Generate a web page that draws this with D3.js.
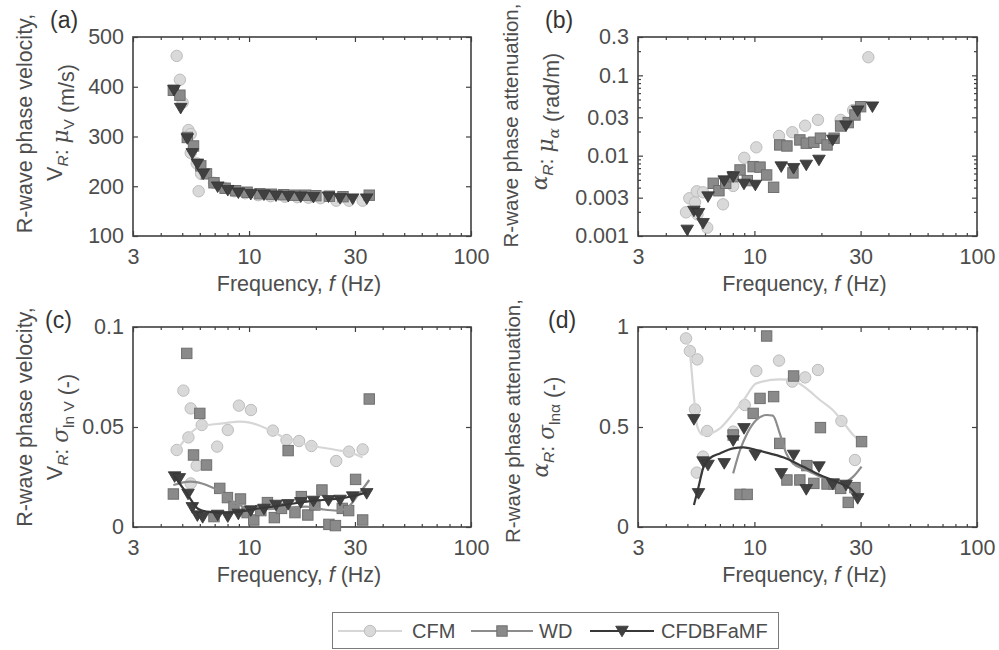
<!DOCTYPE html>
<html>
<head>
<meta charset="utf-8">
<script src="https://cdn.jsdelivr.net/npm/d3@7"></script>
<style>
  html, body { margin: 0; padding: 0; background: #fff; }
  svg { display: block; font-family: "Liberation Sans", Arial, sans-serif; }
</style>
</head>
<body>
<svg id="chart" width="999" height="650"></svg>
<script>
// ---------------- DATA ----------------
const freqTicks = [3, 10, 30, 100];
const freqMinor = [4, 5, 6, 7, 8, 9, 20, 40, 50, 60, 70, 80, 90];
const velTicks = [100, 200, 300, 400, 500];
const attTicks = [0.001, 0.003, 0.01, 0.03, 0.1, 0.3];
const attMinor = [0.002, 0.004, 0.005, 0.006, 0.007, 0.008, 0.009, 0.02, 0.04, 0.05, 0.06, 0.07, 0.08, 0.09, 0.2];
const sdVTicks = [0, 0.05, 0.1];
const sdATicks = [0, 0.5, 1];
const methods = ["CFM", "WD", "CFDBFaMF"];
const panelTags = ["(a)", "(b)", "(c)", "(d)"];

// (a) mean phase velocity (m/s) : [frequency Hz, value]
const aCFM = [[4.72,462],[4.88,414],[5.02,368],[5.33,313],[5.46,305],[5.46,267],[5.81,246],[6.08,225],[5.93,190],[6.95,207],
  [7.7,197],[8.6,190],[9.6,186],[11.0,182],[12.5,180],[14.5,179],[16.5,178],[18.5,177],[21.0,176],[24.7,171],[28.2,171],[32.5,171]];
const aWD = [[4.56,393],[4.88,383],[5.27,298],[5.62,281],[6.06,241],[6.43,225],[6.95,207],[7.8,196],[8.7,191],[9.8,188],
  [11.2,185],[12.6,184],[14.3,183],[16.0,182],[18.0,182],[20.0,181],[23.0,180],[26.5,179],[34.8,182]];
const aCFD = [[4.59,393],[4.92,357],[5.27,296],[5.55,266],[5.85,245],[6.22,225],[7.22,199],[8.02,192],[8.95,187],[10.18,184],
  [11.67,183],[13.23,181],[15.03,180],[17.1,179],[19.5,178],[22.8,179],[25.7,176],[29.3,175],[33.9,175]];

// (b) mean phase attenuation (rad/m)
const bCFM = [[4.93,0.00197],[5.10,0.00295],[5.41,0.00263],[5.51,0.0036],[5.55,0.00186],[5.88,0.0035],[6.14,0.00127],[7.23,0.00248],
  [8.03,0.0042],[9.0,0.0094],[10.2,0.0127],[12.9,0.0176],[14.8,0.0196],[16.9,0.0236],[19.3,0.0279],[24.4,0.0279],[27.8,0.037],[32.5,0.168]];
const bWD = [[6.53,0.00453],[6.93,0.00366],[7.43,0.00453],[8.03,0.00548],[8.62,0.00664],[9.29,0.00489],[9.87,0.0073],[10.6,0.0072],
  [11.35,0.00575],[12.2,0.00404],[13.0,0.0136],[14.0,0.0132],[14.9,0.0061],[16.0,0.0157],[17.1,0.0143],[18.5,0.0147],[19.8,0.0165],
  [21.2,0.0136],[22.8,0.0165],[24.4,0.0234],[26.4,0.0258],[28.3,0.0321],[30.0,0.0407]];
const bCFD = [[4.99,0.00119],[5.35,0.00205],[5.61,0.00192],[5.88,0.00144],[6.19,0.00309],[7.32,0.00489],[8.03,0.00548],[8.98,0.00444],
  [10.1,0.00431],[13.2,0.0073],[15.0,0.00697],[17.1,0.00766],[19.5,0.00884],[22.5,0.0157],[25.8,0.0236],[29.1,0.0363],[33.9,0.0407]];

// (c) standard deviation of ln V (-)
const cCFM = [[4.72,0.0385],[5.06,0.0682],[5.33,0.0448],[5.46,0.0593],[5.81,0.0307],[5.46,0.0218],[6.12,0.051],[7.18,0.0402],
  [8.02,0.0485],[9.0,0.0607],[10.2,0.0585],[12.8,0.0482],[14.75,0.0435],[16.8,0.043],[19.1,0.0405],[24.7,0.033],[28.2,0.0377],[32.5,0.0388]];
const cWD = [[5.24,0.0868],[6.0,0.0568],[5.62,0.036],[6.43,0.031],[4.56,0.0165],[7.38,0.0193],[7.99,0.0147],[8.55,0.0102],[9.15,0.014],
  [6.95,0.0052],[9.8,0.0072],[10.5,0.0035],[11.3,0.0082],[12.1,0.0122],[13.0,0.0047],[14.0,0.0093],[15.0,0.0382],[16.1,0.0072],
  [17.2,0.0152],[18.4,0.006],[19.8,0.011],[21.3,0.0185],[22.9,0.0013],[24.5,0.0007],[26.3,0.0093],[28.1,0.0082],[30.2,0.0238],
  [32.5,0.0035],[34.8,0.064]];
const cCFD = [[4.62,0.0252],[4.85,0.0243],[5.31,0.0165],[5.55,0.0098],[5.85,0.0057],[6.18,0.0048],[7.22,0.006],[8.02,0.0052],
  [8.95,0.0065],[10.18,0.0082],[11.67,0.009],[13.23,0.011],[15.0,0.0113],[17.1,0.0123],[19.5,0.013],[22.8,0.0133],[25.7,0.0135],
  [29.3,0.0152],[33.9,0.0168]];
const cCFMfit = [[4.75,0.0385],[5.43,0.0468],[6.12,0.0505],[7.63,0.0518],[9.09,0.0527],[10.1,0.0522],[12.8,0.0477],[14.75,0.044],
  [19.5,0.0405],[25.7,0.0382],[29.4,0.0368],[32.5,0.0347]];
const cWDfit = [[4.56,0.021],[5.43,0.0227],[6.43,0.021],[7.38,0.0177],[8.48,0.0127],[9.7,0.0097],[11.1,0.0088],[12.8,0.009],
  [15.3,0.0098],[18.1,0.0102],[21.5,0.0088],[24.9,0.0082],[27.5,0.0093],[30.6,0.0152],[34.8,0.0235]];
const cCFDfit = [[4.62,0.0252],[5.24,0.0168],[5.91,0.009],[6.43,0.0077],[7.63,0.0072],[9.09,0.0077],[10.4,0.0088],[12.8,0.0102],
  [15.3,0.0115],[18.1,0.0127],[21.5,0.0135],[25.7,0.0143],[29.4,0.0155],[33.9,0.0172]];

// (d) standard deviation of ln alpha (-)
const dCFM = [[4.93,0.943],[5.13,0.88],[5.54,0.838],[5.41,0.588],[6.14,0.48],[5.88,0.352],[5.51,0.272],[8.03,0.477],[9.05,0.61],
  [10.2,0.78],[12.9,0.832],[14.8,0.727],[16.9,0.748],[19.3,0.785],[24.6,0.53],[28.3,0.335]];
const dWD = [[11.35,0.955],[15.0,0.755],[10.6,0.643],[12.2,0.652],[9.87,0.568],[8.03,0.46],[8.62,0.163],[9.28,0.163],[13.0,0.418],
  [14.0,0.235],[16.0,0.235],[17.2,0.307],[18.5,0.218],[19.8,0.497],[21.2,0.215],[22.8,0.215],[24.4,0.193],[26.4,0.123],[28.3,0.197],[30.3,0.427]];
const dCFD = [[5.35,0.538],[5.61,0.168],[5.88,0.327],[6.19,0.31],[7.32,0.318],[8.03,0.432],[8.98,0.493],[10.1,0.36],[13.2,0.268],
  [15.0,0.36],[17.1,0.188],[19.5,0.302],[22.5,0.215],[25.8,0.21],[29.1,0.143]];
const dCFMfit = [[4.96,0.935],[5.13,0.868],[5.35,0.652],[5.54,0.502],[5.88,0.46],[7.0,0.493],[8.03,0.568],[9.05,0.643],[10.2,0.718],
  [13.0,0.738],[14.9,0.732],[17.1,0.693],[19.7,0.635],[22.5,0.585],[24.6,0.535],[27.8,0.46],[30.0,0.427]];
const dWDfit = [[8.03,0.268],[8.62,0.385],[9.28,0.468],[10.2,0.535],[11.35,0.56],[12.1,0.557],[13.0,0.468],[13.9,0.368],[14.9,0.318],
  [17.1,0.285],[19.7,0.252],[22.5,0.223],[25.0,0.222],[27.8,0.252],[30.3,0.302]];
const dCFDfit = [[5.35,0.11],[5.61,0.2],[5.88,0.293],[6.3,0.343],[7.0,0.368],[8.03,0.393],[8.93,0.398],[10.2,0.385],[11.7,0.368],
  [13.9,0.343],[16.5,0.302],[19.7,0.26],[23.3,0.227],[26.9,0.193],[29.1,0.152]];

// ---------------- STYLE / LAYOUT ----------------
const styles = {
  CFM: { fill: "#d9d9d9", stroke: "#bdbdbd", line: "#d6d6d6", shape: "circle" },
  WD: { fill: "#8a8a8a", stroke: "#6f6f6f", line: "#8c8c8c", shape: "square" },
  CFDBFaMF: { fill: "#404040", stroke: "#333333", line: "#383838", shape: "tri" }
};
const frameColor = "#404040";
const textColor = "#4d4d4d";
const sans = '"Liberation Sans", Arial, sans-serif';
const serif = '"DejaVu Serif", "Liberation Serif", serif';
const FS = 21.5;

const panels = [
  { tag: panelTags[0], left: 133, right: 471, top: 37, bottom: 236, yType: "lin", yDomain: [100, 500], yTicks: velTicks, yMinor: [],
    yFmt: d => String(d), series: [aCFM, aWD, aCFD], fits: [null, null, null], fs1: 21.5,
    ylab1: "R-wave phase velocity,", ylab2: "a", ylabX1: 24, ylabX2: 55, off1: -13, off2: -14, tagX: 50, tagY: 28 },
  { tag: panelTags[1], left: 638, right: 977, top: 37, bottom: 236, yType: "log", yDomain: [0.001, 0.3], yTicks: attTicks, yMinor: attMinor,
    yFmt: d => String(d), series: [bCFM, bWD, bCFD], fits: [null, null, null], fs1: 20.5,
    ylab1: "R-wave phase attenuation,", ylab2: "b", ylabX1: 510, ylabX2: 540, off1: -11, off2: -15, tagX: 545, tagY: 28 },
  { tag: panelTags[2], left: 133, right: 471, top: 327, bottom: 527, yType: "lin", yDomain: [0, 0.1], yTicks: sdVTicks, yMinor: [],
    yFmt: d => String(d), series: [cCFM, cWD, cCFD], fits: [cCFMfit, cWDfit, cCFDfit], fs1: 21.5,
    ylab1: "R-wave phase velocity,", ylab2: "c", ylabX1: 24, ylabX2: 55, off1: -10, off2: 0, tagX: 45, tagY: 328 },
  { tag: panelTags[3], left: 638, right: 977, top: 327, bottom: 527, yType: "lin", yDomain: [0, 1], yTicks: sdATicks, yMinor: [],
    yFmt: d => String(d), series: [dCFM, dWD, dCFD], fits: [dCFMfit, dWDfit, dCFDfit], fs1: 20.5,
    ylab1: "R-wave phase attenuation,", ylab2: "d", ylabX1: 512, ylabX2: 541, off1: -6, off2: 0, tagX: 548, tagY: 328 }
];

const svg = d3.select("#chart");

function drawMarker(g, shape, x, y, st) {
  if (shape === "circle") {
    g.append("circle").attr("cx", x).attr("cy", y).attr("r", 5.7)
      .attr("fill", st.fill).attr("stroke", st.stroke).attr("stroke-width", 1);
  } else if (shape === "square") {
    g.append("rect").attr("x", x - 5.2).attr("y", y - 5.2).attr("width", 10.4).attr("height", 10.4)
      .attr("fill", st.fill).attr("stroke", st.stroke).attr("stroke-width", 1);
  } else {
    g.append("path").attr("d", `M${x - 6.3},${y - 4.8}L${x + 6.3},${y - 4.8}L${x},${y + 5.8}Z`)
      .attr("fill", st.fill).attr("stroke", st.stroke).attr("stroke-width", 0.8);
  }
}

function writeYLabel2(textSel, kind) {
  const sub = (t, italic, fam) => textSel.append("tspan").attr("font-size", 15.5).attr("dy", 6)
    .attr("font-style", italic ? "italic" : "normal").attr("font-family", fam || sans).text(t);
  const up = () => textSel.append("tspan").attr("dy", -6).text("");
  const t = (s, italic, fam) => textSel.append("tspan").attr("font-style", italic ? "italic" : "normal")
    .attr("font-family", fam || sans).text(s);
  if (kind === "a" || kind === "c") t("V"); else t("α", true, serif);
  sub("R", true); up();
  t(": ");
  if (kind === "a" || kind === "b") t("μ", true, serif); else t("σ", true, serif);
  if (kind === "a") sub("V");
  else if (kind === "b") sub("α", true, serif);
  else if (kind === "c") sub("ln V");
  else sub("lnα");
  up();
  if (kind === "a") t(" (m/s)");
  else if (kind === "b") t(" (rad/m)");
  else t(" (-)");
}

panels.forEach(p => {
  const x = d3.scaleLog().domain([3, 100]).range([p.left, p.right]);
  const y = (p.yType === "log" ? d3.scaleLog() : d3.scaleLinear()).domain(p.yDomain).range([p.bottom, p.top]);
  const g = svg.append("g");
  const H = p.bottom - p.top, W = p.right - p.left;

  const styleAxis = sel => {
    sel.select(".domain").remove();
    sel.selectAll(".tick line").attr("stroke", frameColor).attr("stroke-width", 1.2);
    sel.selectAll(".tick text").attr("fill", textColor).attr("font-size", FS).attr("font-family", sans);
  };
  g.append("g").attr("transform", `translate(0,${p.bottom})`)
    .call(d3.axisBottom(x).tickValues(freqTicks).tickFormat(d => String(d)).tickSizeInner(-5).tickSizeOuter(0).tickPadding(13))
    .call(styleAxis);
  g.append("g").attr("transform", `translate(0,${p.bottom})`)
    .call(d3.axisBottom(x).tickValues(freqMinor).tickFormat("").tickSizeInner(-3).tickSizeOuter(0)).call(styleAxis);
  g.append("g").attr("transform", `translate(0,${p.top})`)
    .call(d3.axisTop(x).tickValues(freqTicks).tickFormat("").tickSizeInner(-5).tickSizeOuter(0)).call(styleAxis);
  g.append("g").attr("transform", `translate(0,${p.top})`)
    .call(d3.axisTop(x).tickValues(freqMinor).tickFormat("").tickSizeInner(-3).tickSizeOuter(0)).call(styleAxis);
  g.append("g").attr("transform", `translate(${p.left},0)`)
    .call(d3.axisLeft(y).tickValues(p.yTicks).tickFormat(p.yFmt).tickSizeInner(-5).tickSizeOuter(0).tickPadding(9))
    .call(styleAxis);
  g.append("g").attr("transform", `translate(${p.right},0)`)
    .call(d3.axisRight(y).tickValues(p.yTicks).tickFormat("").tickSizeInner(-5).tickSizeOuter(0)).call(styleAxis);
  if (p.yMinor.length) {
    g.append("g").attr("transform", `translate(${p.left},0)`)
      .call(d3.axisLeft(y).tickValues(p.yMinor).tickFormat("").tickSizeInner(-3).tickSizeOuter(0)).call(styleAxis);
    g.append("g").attr("transform", `translate(${p.right},0)`)
      .call(d3.axisRight(y).tickValues(p.yMinor).tickFormat("").tickSizeInner(-3).tickSizeOuter(0)).call(styleAxis);
  }

  g.append("rect").attr("x", p.left).attr("y", p.top).attr("width", W).attr("height", H)
    .attr("fill", "none").attr("stroke", frameColor).attr("stroke-width", 1.6);

  const lineGen = d3.line().x(d => x(d[0])).y(d => y(d[1])).curve(d3.curveMonotoneX);
  methods.forEach((m, i) => {
    const st = styles[m];
    const mg = g.append("g");
    p.series[i].forEach(d => drawMarker(mg, st.shape, x(d[0]), y(d[1]), st));
    if (p.fits[i]) {
      mg.append("path").attr("d", lineGen(p.fits[i])).attr("fill", "none")
        .attr("stroke", st.line).attr("stroke-width", 2.2);
    }
  });

  const xl = g.append("text").attr("x", (p.left + p.right) / 2 - 3).attr("y", p.bottom + 55)
    .attr("text-anchor", "middle").attr("fill", textColor).attr("font-size", FS).attr("font-family", sans);
  xl.append("tspan").text("Frequency, ");
  xl.append("tspan").attr("font-style", "italic").text("f");
  xl.append("tspan").text(" (Hz)");

  const cy = (p.top + p.bottom) / 2;
  g.append("text").attr("transform", `translate(${p.ylabX1 + 8},${cy + p.off1}) rotate(-90)`)
    .attr("text-anchor", "middle").attr("fill", textColor).attr("font-size", p.fs1).attr("font-family", sans)
    .text(p.ylab1);
  const y2 = g.append("text").attr("transform", `translate(${p.ylabX2 + 7},${cy + p.off2}) rotate(-90)`)
    .attr("text-anchor", "middle").attr("fill", textColor).attr("font-size", FS).attr("font-family", sans);
  writeYLabel2(y2, p.ylab2);

  g.append("text").attr("x", p.tagX).attr("y", p.tagY).attr("fill", "#333")
    .attr("font-size", 23).attr("font-family", sans).text(p.tag);
});

// ---------------- LEGEND ----------------
const lg = svg.append("g");
lg.append("rect").attr("x", 332.5).attr("y", 612.5).attr("width", 446).attr("height", 36)
  .attr("fill", "#fff").attr("stroke", "#7a7a7a").attr("stroke-width", 1);
const legendItems = [
  { m: methods[0], x0: 338, x1: 402, tx: 412 },
  { m: methods[1], x0: 471, x1: 533, tx: 539 },
  { m: methods[2], x0: 590, x1: 654, tx: 661 }
];
legendItems.forEach(it => {
  const st = styles[it.m];
  lg.append("line").attr("x1", it.x0).attr("x2", it.x1).attr("y1", 631).attr("y2", 631)
    .attr("stroke", st.line).attr("stroke-width", 2.2);
  drawMarker(lg, st.shape, (it.x0 + it.x1) / 2, 631, st);
  lg.append("text").attr("x", it.tx).attr("y", 638).attr("fill", textColor).attr("font-size", 20)
    .attr("font-family", sans).text(it.m);
});
</script>
</body>
</html>
